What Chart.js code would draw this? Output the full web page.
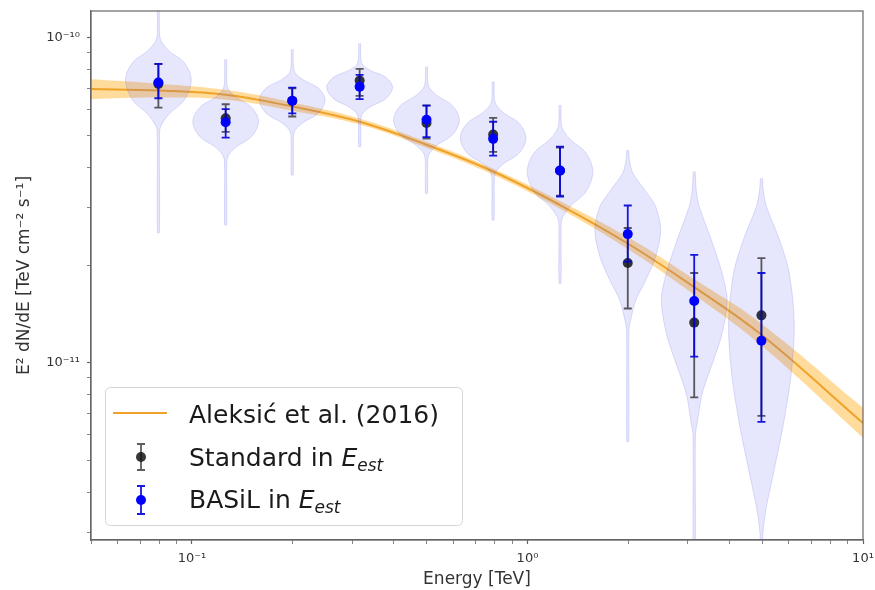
<!DOCTYPE html>
<html>
<head>
<meta charset="utf-8">
<title>Crab SED</title>
<script src="https://cdn.jsdelivr.net/npm/chart.js@4.4.1/dist/chart.umd.min.js"></script>
<style>
  html, body { margin: 0; padding: 0; background: #fff; }
  .chart-box { width: 875px; height: 590px; position: relative; }
</style>
</head>
<body>
<div class="chart-box"><canvas id="sedChart"></canvas></div>
<script>
// --- data ---

// bin centres [TeV]
const energies = [0.0794, 0.126, 0.199, 0.316, 0.5, 0.79, 1.25, 1.99, 3.14, 4.98];

// Standard in E_est (black)
const stdFlux = [7.22e-11, 5.66e-11, 6.4e-11, 7.39e-11, 5.47e-11, 5.04e-11, 3.9e-11, 2.03e-11, 1.33e-11, 1.40e-11];
const stdHigh = [8.3e-11, 6.25e-11, 7.0e-11, 8.03e-11, 6.2e-11, 5.67e-11, 4.6e-11, 2.6e-11, 1.89e-11, 2.10e-11];
const stdLow = [6.1e-11, 5.14e-11, 5.73e-11, 6.63e-11, 4.9e-11, 4.46e-11, 3.27e-11, 1.47e-11, 7.83e-12, 6.87e-12];

// BASiL in E_est (blue)
const basilFlux = [7.29e-11, 5.5e-11, 6.41e-11, 7.08e-11, 5.6e-11, 4.89e-11, 3.91e-11, 2.49e-11, 1.55e-11, 1.17e-11];
const basilHigh = [8.32e-11, 6.04e-11, 7.03e-11, 7.7e-11, 6.19e-11, 5.52e-11, 4.63e-11, 3.05e-11, 2.15e-11, 1.89e-11];
const basilLow = [6.52e-11, 4.93e-11, 5.86e-11, 6.48e-11, 4.95e-11, 4.34e-11, 3.25e-11, 2.05e-11, 1.045e-11, 6.58e-12];

// Aleksic et al. (2016) curve and its band
const fitEnergy = [0.05, 0.0794, 0.126, 0.199, 0.316, 0.5, 0.79, 1.25, 1.99, 3.14, 4.98, 10];
const fitFlux = [6.96e-11, 6.89e-11, 6.68e-11, 6.15e-11, 5.52e-11, 4.69e-11, 3.88e-11, 3.06e-11, 2.33e-11, 1.71e-11, 1.22e-11, 6.53e-12];
const fitUpper = [7.46e-11, 7.23e-11, 6.92e-11, 6.33e-11, 5.65e-11, 4.79e-11, 3.96e-11, 3.15e-11, 2.44e-11, 1.81e-11, 1.32e-11, 7.27e-12];
const fitLower = [6.48e-11, 6.55e-11, 6.45e-11, 5.97e-11, 5.41e-11, 4.59e-11, 3.79e-11, 2.98e-11, 2.24e-11, 1.62e-11, 1.13e-11, 5.88e-12];

// violin outlines per bin: [flux, half width in decades of energy]
const violinProfiles = [
    [[1.309e-10, 0.003], [1.024e-10, 0.0036], [9.741e-11, 0.009], [9.101e-11, 0.033], [8.505e-11, 0.072], [7.946e-11, 0.091],
     [7.425e-11, 0.098], [6.859e-11, 0.091], [6.333e-11, 0.072], [5.847e-11, 0.033], [5.399e-11, 0.009], [5.137e-11, 0.0036],
     [2.518e-11, 0.003]],
    [[8.598e-11, 0.003], [7.273e-11, 0.0036], [6.918e-11, 0.009], [6.542e-11, 0.033], [6.185e-11, 0.072], [5.845e-11, 0.091],
     [5.527e-11, 0.098], [5.209e-11, 0.091], [4.911e-11, 0.072], [4.629e-11, 0.033], [4.365e-11, 0.009], [4.153e-11, 0.0036],
     [2.659e-11, 0.003]],
    [[9.23e-11, 0.003], [8.182e-11, 0.0036], [7.786e-11, 0.009], [7.426e-11, 0.033], [7.084e-11, 0.072], [6.757e-11, 0.091],
     [6.446e-11, 0.098], [6.112e-11, 0.091], [5.795e-11, 0.072], [5.495e-11, 0.033], [5.21e-11, 0.009], [4.959e-11, 0.0036],
     [3.789e-11, 0.003]],
    [[9.631e-11, 0.003], [8.679e-11, 0.0036], [8.259e-11, 0.009], [7.939e-11, 0.033], [7.632e-11, 0.072], [7.336e-11, 0.091],
     [7.051e-11, 0.098], [6.735e-11, 0.091], [6.432e-11, 0.072], [6.142e-11, 0.033], [5.865e-11, 0.009], [5.581e-11, 0.0036],
     [4.629e-11, 0.003]],
    [[8.161e-11, 0.003], [7.374e-11, 0.0036], [7.017e-11, 0.009], [6.631e-11, 0.033], [6.265e-11, 0.072], [5.92e-11, 0.091],
     [5.593e-11, 0.098], [5.273e-11, 0.091], [4.971e-11, 0.072], [4.686e-11, 0.033], [4.418e-11, 0.009], [4.205e-11, 0.0036],
     [3.327e-11, 0.003]],
    [[7.337e-11, 0.003], [6.537e-11, 0.0036], [6.221e-11, 0.009], [5.864e-11, 0.033], [5.529e-11, 0.072], [5.212e-11, 0.091],
     [4.913e-11, 0.098], [4.631e-11, 0.091], [4.365e-11, 0.072], [4.115e-11, 0.033], [3.878e-11, 0.009], [3.69e-11, 0.0036],
     [2.754e-11, 0.003]],
    [[6.221e-11, 0.003], [5.476e-11, 0.0036], [5.21e-11, 0.009], [4.84e-11, 0.033], [4.496e-11, 0.072], [4.175e-11, 0.091],
     [3.878e-11, 0.098], [3.581e-11, 0.091], [3.306e-11, 0.072], [3.053e-11, 0.033], [2.819e-11, 0.009], [2.683e-11, 0.0036],
     [1.759e-11, 0.003]],
    [[4.52e-11, 0.003], [4.21e-11, 0.005], [3.84e-11, 0.015], [3.4e-11, 0.051], [3.03e-11, 0.083], [2.56e-11, 0.098],
     [2.12e-11, 0.083], [1.8e-11, 0.054], [1.56e-11, 0.024], [1.36e-11, 0.009], [1.26e-11, 0.0035], [5.73e-12, 0.003]],
    [[3.88e-11, 0.003], [3.4e-11, 0.006], [3.03e-11, 0.015], [2.39e-11, 0.051], [1.89e-11, 0.083], [1.56e-11, 0.098],
     [1.23e-11, 0.083], [9.75e-12, 0.051], [8.07e-12, 0.024], [6.52e-12, 0.009], [6.0e-12, 0.0035], [2.48e-12, 0.003]],
    [[3.7e-11, 0.003], [3.36e-11, 0.006], [3.03e-11, 0.015], [2.39e-11, 0.054], [1.89e-11, 0.083], [1.32e-11, 0.098],
     [9.29e-12, 0.089], [6.52e-12, 0.066], [4.58e-12, 0.036], [3.61e-12, 0.015], [3.0e-12, 0.0045], [2.48e-12, 0.002]],
];

// axes
const xMin = 0.05, xMax = 10;
const yMin = 2.85e-12, yMax = 1.21e-10;
const xMajorTicks = [0.1, 1, 10];
const xMajorLabels = ['10⁻¹', '10⁰', '10¹'];
const yMajorTicks = [1e-11, 1e-10];
const yMajorLabels = ['10⁻¹¹', '10⁻¹⁰'];
const xTitle = 'Energy [TeV]';
const yTitle = 'E² dN/dE [TeV cm⁻² s⁻¹]';
const legendLabels = ['Aleksić et al. (2016)', 'Standard in ', 'BASiL in '];

// --- styles ---
const FONT = '"DejaVu Sans", "Liberation Sans", sans-serif';
const TEXT = '#333';
const AXIS_GREY = '#666';
const ORANGE = 'rgb(240, 162, 40)';
const BAND = 'rgba(255, 170, 20, 0.42)';
const VIOLIN_FILL = 'rgba(100, 100, 235, 0.16)';
const VIOLIN_EDGE = 'rgba(100, 100, 230, 0.2)';
const STD_DOT = 'rgba(20, 20, 20, 0.85)';
const STD_BAR = 'rgba(30, 30, 30, 0.72)';
const BASIL_DOT = 'rgb(0, 0, 255)';
const BASIL_BAR = 'rgba(0, 0, 220, 0.9)';

// --- helpers ---

function toPoints(xs, ys) {
    return xs.map((x, i) => ({ x, y: ys[i] }));
}

function logTicks(min, max) {
    const out = [];
    for (let d = Math.floor(Math.log10(min)); d <= Math.ceil(Math.log10(max)); d++) {
        for (let m = 1; m < 10; m++) {
            const v = m * Math.pow(10, d);
            if (v >= min * 0.999 && v <= max * 1.001) out.push({ value: v });
        }
    }
    return out;
}

function majorIndex(value, majors) {
    return majors.findIndex(t => Math.abs(Math.log10(value) - Math.log10(t)) < 1e-6);
}

function tickLabel(value, majors, labels) {
    const i = majorIndex(value, majors);
    return i >= 0 ? labels[i] : '';
}

// right side top->bottom, then left side bottom->top
function violinOutline(e, profile) {
    const right = profile.map(([f, w]) => ({ x: e * Math.pow(10, w), y: f }));
    const left = profile.slice().reverse().map(([f, w]) => ({ x: e / Math.pow(10, w), y: f }));
    return right.concat(left);
}

function drawErrorBars(chart, xs, lows, highs, color) {
    const { ctx, scales: { x, y } } = chart;
    ctx.save();
    ctx.strokeStyle = color;
    ctx.lineWidth = 1.8;
    xs.forEach((e, i) => {
        const px = x.getPixelForValue(e);
        const top = y.getPixelForValue(highs[i]);
        const bot = y.getPixelForValue(lows[i]);
        ctx.beginPath();
        ctx.moveTo(px, top); ctx.lineTo(px, bot);
        ctx.moveTo(px - 4, top); ctx.lineTo(px + 4, top);
        ctx.moveTo(px - 4, bot); ctx.lineTo(px + 4, bot);
        ctx.stroke();
    });
    ctx.restore();
}

const errorBarPlugin = {
    id: 'errorBars',
    beforeDatasetDraw(chart, args) {
        const label = chart.data.datasets[args.index].label;
        if (label === 'std') drawErrorBars(chart, energies, stdLow, stdHigh, STD_BAR);
        if (label === 'basil') drawErrorBars(chart, energies, basilLow, basilHigh, BASIL_BAR);
    }
};

function legendMarker(ctx, x, y, half, barColor, dotColor) {
    ctx.strokeStyle = barColor;
    ctx.lineWidth = 1.8;
    ctx.beginPath();
    ctx.moveTo(x, y - half); ctx.lineTo(x, y + half);
    ctx.moveTo(x - 4, y - half); ctx.lineTo(x + 4, y - half);
    ctx.moveTo(x - 4, y + half); ctx.lineTo(x + 4, y + half);
    ctx.stroke();
    ctx.fillStyle = dotColor;
    ctx.beginPath();
    ctx.arc(x, y, 5, 0, Math.PI * 2);
    ctx.fill();
}

function legendText(ctx, text, x, baseline) {
    ctx.fillStyle = '#1a1a1a';
    ctx.font = `25px ${FONT}`;
    ctx.fillText(text, x, baseline);
    let cx = x + ctx.measureText(text).width;
    ctx.font = `italic 25px ${FONT}`;
    ctx.fillText('E', cx, baseline);
    cx += ctx.measureText('E').width;
    ctx.font = `italic 17px ${FONT}`;
    ctx.fillText('est', cx, baseline + 5);
}

const framePlugin = {
    id: 'frameAndLegend',
    afterDraw(chart) {
        const { ctx, chartArea: a } = chart;
        ctx.save();
        ctx.strokeStyle = AXIS_GREY;
        ctx.lineWidth = 1.2;
        ctx.strokeRect(a.left, a.top, a.right - a.left, a.bottom - a.top);

        // legend box
        ctx.beginPath();
        ctx.roundRect(105.5, 387.5, 357, 138, 5);
        ctx.fillStyle = 'rgba(255, 255, 255, 0.8)';
        ctx.fill();
        ctx.strokeStyle = '#d4d4d4';
        ctx.lineWidth = 1;
        ctx.stroke();

        ctx.textBaseline = 'alphabetic';
        ctx.strokeStyle = ORANGE;
        ctx.lineWidth = 2;
        ctx.beginPath();
        ctx.moveTo(113, 413); ctx.lineTo(167, 413);
        ctx.stroke();
        ctx.fillStyle = '#1a1a1a';
        ctx.font = `25px ${FONT}`;
        ctx.fillText(legendLabels[0], 189, 423);

        legendMarker(ctx, 141, 457, 13, STD_BAR, STD_DOT);
        legendText(ctx, legendLabels[1], 189, 466);
        legendMarker(ctx, 141, 500, 14, BASIL_BAR, BASIL_DOT);
        legendText(ctx, legendLabels[2], 189, 508);
        ctx.restore();
    }
};

// --- datasets ---

const datasets = [
    {
        label: 'bandUpper', data: toPoints(fitEnergy, fitUpper),
        showLine: true, borderWidth: 0, pointRadius: 0, fill: false, tension: 0.4, order: 6,
    },
    {
        label: 'bandLower', data: toPoints(fitEnergy, fitLower),
        showLine: true, borderWidth: 0, pointRadius: 0, fill: '-1', backgroundColor: BAND, tension: 0.4, order: 5,
    },
    {
        label: 'fit', data: toPoints(fitEnergy, fitFlux),
        showLine: true, borderColor: ORANGE, borderWidth: 2, pointRadius: 0, fill: false, tension: 0.4, order: 4,
    },
];

violinProfiles.forEach((profile, i) => {
    datasets.push({
        label: 'violin' + i,
        data: violinOutline(energies[i], profile),
        showLine: true,
        fill: 'shape',
        backgroundColor: VIOLIN_FILL,
        borderColor: VIOLIN_EDGE,
        borderWidth: 1,
        pointRadius: 0,
        tension: 0.3,
        order: 3,
    });
});

datasets.push({
    label: 'std', data: toPoints(energies, stdFlux),
    pointRadius: 5, pointBackgroundColor: STD_DOT, pointBorderWidth: 0, order: 2,
});
datasets.push({
    label: 'basil', data: toPoints(energies, basilFlux),
    pointRadius: 5, pointBackgroundColor: BASIL_DOT, pointBorderWidth: 0, order: 1,
});

const tickWidth = (majors) => (c) => (c.tick && majorIndex(c.tick.value, majors) >= 0 ? 1.2 : 0.8);

new Chart(document.getElementById('sedChart'), {
    type: 'scatter',
    data: { datasets },
    plugins: [errorBarPlugin, framePlugin],
    options: {
        responsive: true,
        maintainAspectRatio: false,
        animation: false,
        events: [],
        layout: { padding: { top: 11, right: 12, left: 0, bottom: 0 } },
        plugins: { legend: { display: false }, tooltip: { enabled: false } },
        scales: {
            x: {
                type: 'logarithmic', min: xMin, max: xMax,
                afterBuildTicks: (scale) => { scale.ticks = logTicks(xMin, xMax); },
                afterFit: (scale) => { scale.height = 50; scale.paddingLeft = 0; scale.paddingRight = 0; },
                ticks: {
                    autoSkip: false, maxRotation: 0, padding: 7, color: TEXT,
                    font: { family: FONT, size: 13 },
                    callback: (v) => tickLabel(v, xMajorTicks, xMajorLabels),
                },
                grid: { drawOnChartArea: false, drawTicks: true, tickLength: 4, tickColor: AXIS_GREY, tickWidth: tickWidth(xMajorTicks) },
                border: { display: true, color: AXIS_GREY, width: 1.2 },
                title: { display: true, text: xTitle, color: TEXT, font: { family: FONT, size: 17 }, padding: { top: 0, bottom: 0 } },
            },
            y: {
                type: 'logarithmic', min: yMin, max: yMax,
                afterBuildTicks: (scale) => { scale.ticks = logTicks(yMin, yMax); },
                afterFit: (scale) => { scale.width = 91; scale.paddingTop = 0; scale.paddingBottom = 0; },
                ticks: {
                    autoSkip: false, padding: 7, color: TEXT,
                    font: { family: FONT, size: 13 },
                    callback: (v) => tickLabel(v, yMajorTicks, yMajorLabels),
                },
                grid: { drawOnChartArea: false, drawTicks: true, tickLength: 4, tickColor: AXIS_GREY, tickWidth: tickWidth(yMajorTicks) },
                border: { display: true, color: AXIS_GREY, width: 1.2 },
                title: { display: true, text: yTitle, color: TEXT, font: { family: FONT, size: 17 }, padding: { top: 14, bottom: 0 } },
            },
        },
    },
});
</script>
</body>
</html>
